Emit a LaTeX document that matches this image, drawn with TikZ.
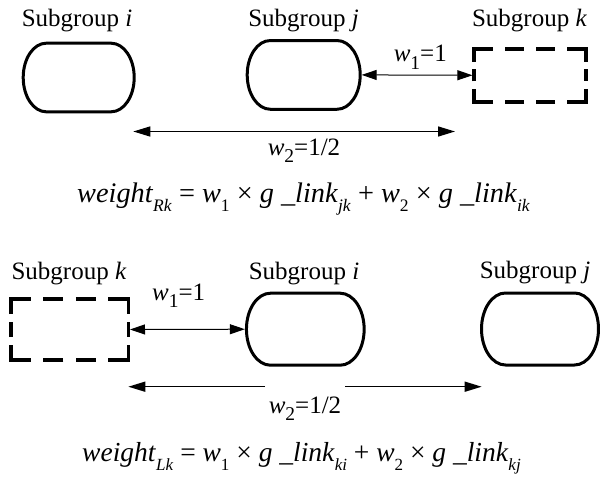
\documentclass[tikz,border=0pt]{standalone}
\usepackage{fontspec}
\setmainfont{Liberation Serif}
\newfontfamily\tnr{Liberation Serif}
\usetikzlibrary{arrows.meta}
\newcommand\ovaloutline[3]{%
  \draw[ovalline] ([xshift=#2]#1.north west) -- ([xshift=-#2]#1.north east)
    arc[start angle=90,end angle=-90,x radius=#2,y radius=#3]
    -- ([xshift=#2]#1.south west)
    arc[start angle=270,end angle=90,x radius=#2,y radius=#3] -- cycle;}
\newcommand\wsub[1]{\raisebox{-0.3em}{\scalebox{0.78}{#1}}}
\newcommand\fsub[1]{\raisebox{-0.32em}{\scalebox{0.62}{#1}}}
\tikzset{
  x=1pt, y=1pt,
  holder/.style={draw=none, inner sep=0pt, outer sep=0pt},
  ovalline/.style={line width=3pt, line join=round},
  dashline/.style={line width=3.5pt, line join=miter},
  wonearrow/.style={line width=1pt,
    {Triangle[length=15pt,width=10pt]}-{Triangle[length=15pt,width=10pt]},
    shorten <=1.5pt, shorten >=1.6pt},
  wtwoarrow/.style={line width=1.5pt, -{Triangle[length=17pt,width=10pt]}},
  grouplbl/.style={font=\tnr\fontsize{25}{28}\selectfont, inner sep=0pt, anchor=base},
  wlbl/.style={font=\tnr\fontsize{25}{28}\selectfont, inner sep=0pt},
  formula/.style={font=\tnr\fontsize{28}{31}\selectfont, inner sep=0pt, anchor=base west}
}
\begin{document}
\begin{tikzpicture}
\path[use as bounding box] (0,0) rectangle (600,-479);

% ---------------- top part ----------------
\node[grouplbl] (lti) at (77,-26) {Subgroup \textit{i}};
\node[grouplbl] (ltj) at (303.5,-26) {Subgroup \textit{j}};
\node[grouplbl] (ltk) at (529.5,-26) {Subgroup \textit{k}};

\node[holder, minimum width=111pt, minimum height=68.6pt] (ti) at (78.7,-77.5) {};
\node[holder, minimum width=113pt, minimum height=68.7pt] (tj) at (303.7,-74.9) {};
\node[holder, minimum width=112pt, minimum height=53pt] (tk) at (530,-75.3) {};
\ovaloutline{ti}{23pt}{34.3pt}
\ovaloutline{tj}{23pt}{34.35pt}
\draw[dashline, dash pattern=on 19pt off 12pt on 32pt off 7.5pt on 12pt off 7.5pt on 32pt off 12pt on 19pt off 12pt on 19pt off 12pt on 32pt off 7.5pt on 12pt off 7.5pt on 32pt off 12pt on 19pt off 12pt]
  ([xshift=6pt]tk.north) -- (tk.north east) -- (tk.south east) -- (tk.south west) -- (tk.north west) -- cycle;

\draw[wonearrow] (tj.east) -- (tk.west);
\node[wlbl, anchor=base east] (tw1) at (447,-61.7) {\textit{w}\wsub{1}=1};

\coordinate (tw2l) at (133.3,-131.5);
\coordinate (tw2r) at (455,-131.5);
\draw[wtwoarrow, {Triangle[length=17pt,width=10pt]}-{Triangle[length=17pt,width=10pt]}] (tw2l) -- (tw2r);
\node[wlbl, anchor=base] (tw2) at (304,-155) {\textit{w}\wsub{2}=1/2};

\node[formula, font=\tnr\fontsize{28.3}{31}\selectfont] (tf) at (77,-202) {\textit{weight}\fsub{\textit{Rk}} = \textit{w}\fsub{1} × \textit{g \_link}\fsub{\textit{jk}} + \textit{w}\fsub{2} × \textit{g \_link}\fsub{\textit{ik}}};

% ---------------- bottom part ----------------
\node[grouplbl] (lbk) at (69,-279) {Subgroup \textit{k}};
\node[grouplbl] (lbi) at (304,-279) {Subgroup \textit{i}};
\node[grouplbl] (lbj) at (535,-278) {Subgroup \textit{j}};

\node[holder, minimum width=117.5pt, minimum height=61pt] (bk) at (69.5,-329.5) {};
\node[holder, minimum width=117.7pt, minimum height=72pt] (bi) at (305.3,-329.2) {};
\node[holder, minimum width=117pt, minimum height=72pt] (bj) at (540,-329) {};
\draw[dashline, dash pattern=on 20pt off 12.5pt on 35pt off 8pt on 15pt off 8pt on 35pt off 12.5pt on 20pt off 12.5pt on 20pt off 12.5pt on 35pt off 8pt on 15pt off 8pt on 35pt off 12.5pt on 20pt off 12.5pt]
  ([xshift=6.25pt]bk.north) -- (bk.north east) -- (bk.south east) -- (bk.south west) -- (bk.north west) -- cycle;
\ovaloutline{bi}{24pt}{36pt}
\ovaloutline{bj}{24pt}{36pt}

\draw[wonearrow, shorten <=1.75pt] (bk.east) -- (bi.west);
\node[wlbl, anchor=base west] (bw1) at (152,-300) {\textit{w}\wsub{1}=1};

\coordinate (bw2l) at (128.3,-386.7);
\coordinate (bw2r) at (481.7,-386.7);
\coordinate (bgapl) at (265,-386.7);
\coordinate (bgapr) at (345,-386.7);
\draw[wtwoarrow] (bgapl) -- (bw2l);
\draw[wtwoarrow] (bgapr) -- (bw2r);
\node[wlbl, anchor=base] (bw2) at (305,-413) {\textit{w}\wsub{2}=1/2};

\node[formula, font=\tnr\fontsize{27.5}{31}\selectfont] (bf) at (82,-461.7) {\textit{weight}\fsub{\textit{Lk}} = \textit{w}\fsub{1} × \textit{g \_link}\fsub{\textit{ki}} + \textit{w}\fsub{2} × \textit{g \_link}\fsub{\textit{kj}}};
\end{tikzpicture}
\end{document}
